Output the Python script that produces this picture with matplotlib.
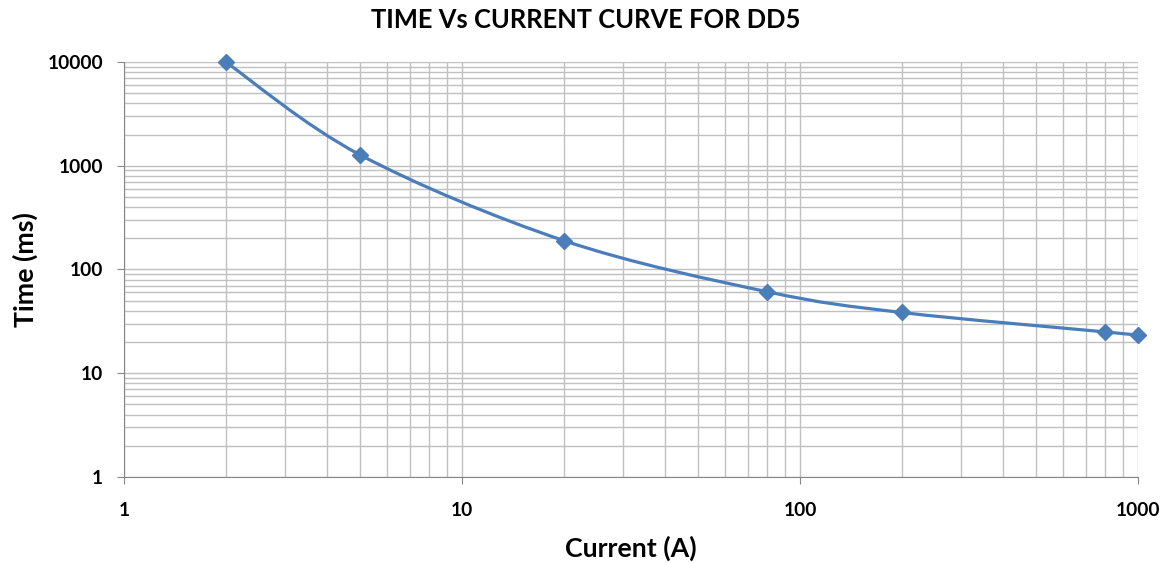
import numpy as np
import matplotlib.pyplot as plt
from matplotlib.path import Path
from matplotlib.patches import PathPatch
from matplotlib.ticker import FixedLocator, LogLocator, NullFormatter

# Data
current = [2, 5, 20, 80, 200, 800, 1000]
time_ms = [10000, 1270, 190, 61, 38.5, 25, 23.3]
xticks = [1, 10, 100, 1000]
yticks = [1, 10, 100, 1000, 10000]

BLUE = '#4A7EBB'
GRID = '#c0c0c0'
plt.rcParams['font.family'] = ['Lato', 'DejaVu Sans']

fig = plt.figure(figsize=(11.71, 5.63), dpi=100)
ax = fig.add_axes([0.1059, 0.1528, 0.8659, 0.7371])
ax.set_xscale('log')
ax.set_yscale('log')
ax.set_xlim(1, 1000)
ax.set_ylim(1, 10000)

# smoothed line like Excel: bezier segments built in log space
lx = np.log10(current)
ly = np.log10(time_ms)
n = len(lx)
verts = [(current[0], time_ms[0])]
codes = [Path.MOVETO]
for i in range(n - 1):
    p0 = max(i - 1, 0)
    p3 = min(i + 2, n - 1)
    c1x = lx[i] + (lx[i + 1] - lx[p0]) / 6
    c1y = ly[i] + (ly[i + 1] - ly[p0]) / 6
    c2x = lx[i + 1] - (lx[p3] - lx[i]) / 6
    c2y = ly[i + 1] - (ly[p3] - ly[i]) / 6
    verts += [(10 ** c1x, 10 ** c1y), (10 ** c2x, 10 ** c2y), (current[i + 1], time_ms[i + 1])]
    codes += [Path.CURVE4] * 3
ax.add_patch(PathPatch(Path(verts, codes), fill=False, edgecolor=BLUE, lw=2.3,
                       zorder=3, clip_on=False))
ax.plot(current, time_ms, linestyle='none', marker='D', ms=8, color=BLUE,
        zorder=4, clip_on=False)

ax.xaxis.set_major_locator(FixedLocator(xticks))
ax.yaxis.set_major_locator(FixedLocator(yticks))
ax.xaxis.set_minor_locator(LogLocator(base=10, subs=np.arange(2, 10)))
ax.yaxis.set_minor_locator(LogLocator(base=10, subs=np.arange(2, 10)))
ax.xaxis.set_minor_formatter(NullFormatter())
ax.yaxis.set_minor_formatter(NullFormatter())
ax.set_xticklabels([str(v) for v in xticks])
ax.set_yticklabels([str(v) for v in yticks])

ax.grid(which='both', color=GRID, linewidth=1)
ax.set_axisbelow(True)
for s in ['top', 'right']:
    ax.spines[s].set_visible(False)
for s in ['left', 'bottom']:
    ax.spines[s].set_color('#868686')
ax.tick_params(which='major', length=5, color='#868686', labelsize=13.8)
ax.tick_params(axis='x', pad=13)
ax.tick_params(axis='y', pad=10)
ax.tick_params(which='minor', length=0)
for lab in ax.get_xticklabels() + ax.get_yticklabels():
    lab.set_fontweight('bold')

ax.set_xlabel('Current (A)', fontsize=19.3, fontweight='bold')
ax.set_ylabel('Time (ms)', fontsize=19.3, fontweight='bold')
ax.xaxis.set_label_coords(0.5, -0.171)
ax.yaxis.set_label_coords(-0.0976, 0.5)
ax.xaxis.label.set_va('center')
ax.yaxis.label.set_va('center')
fig.suptitle('TIME Vs CURRENT CURVE FOR DD5', fontsize=18.4, fontweight='bold', y=0.985)

fig.savefig('out.png', dpi=100)
